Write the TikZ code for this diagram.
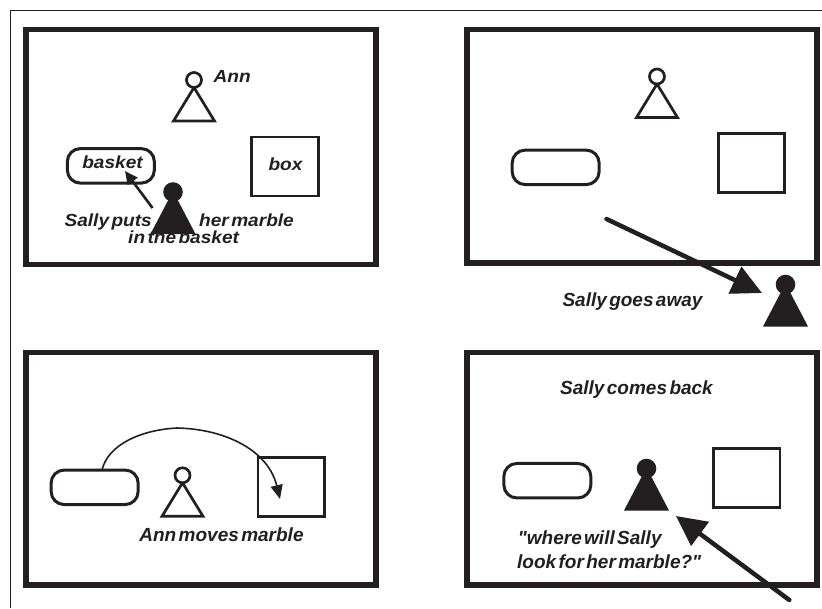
\documentclass[tikz,border=0pt]{standalone}
\usepackage{fontspec}
\usepackage{graphicx}
\setmainfont{Liberation Sans}
% label face: plain straight quotes and narrow word spaces
\newfontfamily\lblfont{Liberation Sans}[WordSpace={0.45}]
\usetikzlibrary{arrows.meta}
\definecolor{ink}{RGB}{35,31,32}
% first scene uses a slightly shorter, wider lettering
\newcommand\widelettering[1]{\scalebox{1.09}[1]{#1}}
\begin{document}
\begin{tikzpicture}[x=1pt,y=-1pt,
  lbl/.style={font=\lblfont\fontsize{19}{22}\selectfont\bfseries\itshape, text=ink, inner sep=0pt, anchor=base},
  lblwide/.style={lbl, font=\lblfont\fontsize{17.5}{20}\selectfont\bfseries\itshape},
  frame/.style={draw=ink, line width=1.3pt},
  panel/.style={draw=ink, line width=5.8pt},
  basketshape/.style={draw=ink, line width=3pt, rounded corners=13pt, minimum width=87pt, minimum height=34.5pt, inner sep=0pt},
  boxshape/.style={draw=ink, line width=2.6pt, minimum width=66.5pt, minimum height=59pt, inner sep=0pt},
  smallarrow/.style={draw=ink, line width=2.6pt, -{Triangle[length=13pt,width=12pt]}},
  curvearrow/.style={draw=ink, line width=1.6pt, -{Triangle[length=14pt,width=12pt]}},
  bigarrow/.style={draw=ink, line width=4.5pt, line cap=round, -{Triangle[length=30pt,width=29pt]}},
  ann/.pic={
    \draw[ink, line width=2.7pt] (0,0) circle (7.5pt);
    \draw[ink, line width=2.7pt, line join=miter] (0,7.5) -- (20.5,41) -- (-20.5,41) -- (0,7.5);
  },
  sally/.pic={
    \fill[ink] (0,0) circle (9.8pt);
    \fill[ink] (0,-1) -- (22.5,42) -- (-22.5,42) -- cycle;
  }
]
\useasboundingbox (0,0) rectangle (822,608);

% outer page frame
\draw[frame] (10.7,608) -- (10.7,10.7) -- (822,10.7);

% the four scene frames
\draw[panel] (26,29.5) rectangle (376,264.5);
\draw[panel] (467,29.5) rectangle (817,263);
\draw[panel] (26,352.5) rectangle (376,585);
\draw[panel] (467,352.5) rectangle (817,585);

% ---- scene 1: Sally puts her marble in the basket
\pic at (194,80) {ann};
\node[lblwide, anchor=base west] (t-ann) at (213.5,82.7) {\widelettering{Ann}};
\node[basketshape] (b1) at (110.85,165.85) {};
\node[lblwide] (t-basket) at (112.5,168.3) {\widelettering{basket}};
\node[boxshape] (x1) at (285,166.65) {};
\node[lblwide] (t-box) at (285.5,170.7) {\widelettering{box}};
\pic at (173,192) {sally};
\coordinate (s1tail) at (152.5,208);
\coordinate (s1tip) at (125,171);
\draw[smallarrow] (s1tail) -- (s1tip);
\node[lblwide, anchor=base east] (t-puts) at (152,226) {\widelettering{Sally puts}};
\node[lblwide, anchor=base west] (t-marble) at (199,226) {\widelettering{her marble}};
\node[lblwide, anchor=base west] (t-inbasket) at (128,243.5) {\widelettering{in the basket}};

% ---- scene 2: Sally goes away
\pic at (657,76.5) {ann};
\node[basketshape] (b2) at (555.65,167.35) {};
\node[boxshape] (x2) at (751.5,162.8) {};
\coordinate (s2tail) at (606.5,219);
\coordinate (s2tip) at (762,293);
\draw[bigarrow] (s2tail) -- (s2tip);
\pic at (785.5,284.5) {sally};
\node[lbl] (t-away) at (632.5,306.7) {Sally goes away};

% ---- scene 3: Ann moves the marble
\node[basketshape] (b3) at (94.65,487.3) {};
\pic at (182.5,475.3) {ann};
\node[boxshape] (x3) at (291.2,487.15) {};
\coordinate (c3a) at (102,470);
\coordinate (c3m) at (177,428);
\coordinate (c3b) at (280,499);
\draw[curvearrow] (c3a) .. controls (108,445) and (140,430) .. (c3m)
  .. controls (225,429) and (268,450) .. (c3b);
\node[lbl] (t-moves) at (221.5,541.3) {Ann moves marble};

% ---- scene 4: Sally comes back
\node[lbl] (t-back) at (636.5,394.7) {Sally comes back};
\node[basketshape] (b4) at (547.35,480.7) {};
\pic at (646.5,468.5) {sally};
\node[boxshape] (x4) at (746.85,478.15) {};
\coordinate (s4tail) at (789.3,600);
\coordinate (s4tip) at (676,516);
\draw[bigarrow] (s4tail) -- (s4tip);
\node[lbl, anchor=base west] (t-q1) at (517.7,544.7) {"where will Sally};
\node[lbl, anchor=base west] (t-q2) at (517,568) {look for her marble?"};
\end{tikzpicture}
\end{document}
